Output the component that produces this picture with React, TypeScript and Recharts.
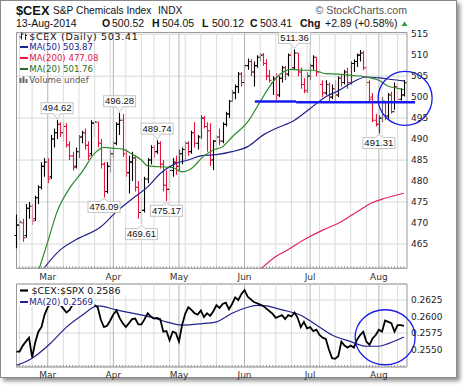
import React from "react";
import { ComposedChart, Bar, Line, XAxis, YAxis, CartesianGrid, ReferenceLine, ReferenceDot, ReferenceArea } from "recharts";

// trading days Feb 14 .. Aug 13 2014, index 0..124
const monthStarts = [10, 31, 52, 73, 94, 116];
const monthNames = ["Mar", "Apr", "May", "Jun", "Jul", "Aug"];
const weekStarts = [1, 5, 15, 20, 25, 30, 35, 40, 44, 49, 54, 59, 64, 69, 78, 83, 88, 93, 97, 102, 107, 112, 117, 122];

const open = [
  467, 469.5, 470, 467, 473.5, 474, 471, 476, 478.5, 483.5, 484.5, 481, 490, 491.5, 493.5, 491.5, 493, 488.6, 486, 483.5,
  487, 490.5, 491.5, 488.5, 486.5, 493.8, 494, 489, 484, 477.5, 483.5, 486.5, 489, 493.5, 494.5, 486.5, 482, 484.5, 485.5, 478.5,
  472.5, 473, 480.5, 485, 488, 487, 489, 484, 479, 478, 482.5, 484.5, 483.5, 486.5, 487.5, 489, 487, 491.5, 489, 490.5,
  495, 493, 492, 485, 489.5, 490.5, 489.5, 493.5, 496, 499, 501, 502.5, 505.5, 503.5, 507.5, 508.5, 506, 507.5, 509.5, 510,
  508, 505, 503.5, 504.5, 500.5, 504.5, 507, 505.5, 510, 507, 510.5, 506, 503, 501.5, 505, 507.5, 509.5, 506, 503, 501,
  503, 500, 502, 500.5, 504.5, 503.5, 506, 503.5, 508, 508.5, 510, 510.5, 507, 503.5, 500, 494.5, 493.5, 495, 499, 495.5,
  500.5, 496.5, 502.5, 499.5, 500.52,
];
const high = [
  472, 471, 471, 474.5, 475, 474.5, 476.5, 479, 484.5, 485.5, 485.5, 491, 492.5, 494.62, 494, 494, 493.8, 489.5, 487, 488,
  491, 492, 492.5, 489.5, 494.5, 494.2, 494, 490, 484.5, 484.5, 487.5, 489.5, 494, 496.28, 496, 487.5, 486, 487, 486, 480,
  476, 481, 485.5, 488.5, 488.5, 489.74, 489.5, 485, 482.5, 483.5, 485.5, 486, 487.5, 488, 489.5, 489.5, 492, 494, 491, 495.7,
  495.5, 494, 493.8, 489.8, 491, 492.5, 494, 496.5, 499.3, 501.7, 503, 506, 506, 508, 509.2, 509, 508.5, 510, 510.5, 510.5,
  509, 506.5, 505, 505.7, 505, 507.5, 507.5, 510.4, 511, 511.36, 510.5, 507, 504.5, 506, 508, 510, 509.5, 506.5, 504, 504,
  503.5, 503, 504, 505, 505.5, 506.5, 507, 508.5, 509, 510.4, 511.2, 511, 507.5, 504, 501, 496, 495.7, 500, 499, 501,
  501.3, 503.5, 503.3, 502.2, 504.05,
];
const low = [
  464, 466, 465.5, 466.5, 471, 469.5, 470.5, 474.5, 478, 481, 479.5, 480.5, 488, 490, 490.5, 489.5, 488, 485, 482.5, 483,
  485.5, 489, 487.5, 485, 486, 490.5, 488, 483, 476.09, 477, 482, 485.5, 488.5, 491, 485.8, 481, 477, 480, 477.5, 471,
  469.61, 472.5, 479.5, 484, 485.5, 486.5, 483, 477.5, 475.17, 477, 481, 481.5, 482.5, 484, 485, 486, 486.5, 488, 487.5, 490,
  492.5, 487, 483.6, 482.6, 488, 488.5, 489, 493, 495, 498.9, 499.5, 501, 502.5, 503, 506.5, 505, 502.5, 507, 508.5, 507.5,
  504, 503.5, 500.5, 498.9, 500, 503.5, 504, 505, 505, 506.5, 505, 502, 500.9, 501, 504, 506.5, 505, 502, 500, 500.5,
  498.9, 499.5, 499, 500, 502.5, 503, 502, 503, 506, 507.2, 508.5, 506.4, 502.5, 498.9, 494, 493, 491.31, 494, 494.5, 494.5,
  496.1, 497, 498.9, 499.2, 500.12,
];
const close = [
  469.5, 470.2, 466.5, 473.5, 474, 470.5, 476, 478.5, 483.5, 484.5, 480.5, 490, 491.5, 493.5, 491.5, 493, 488.6, 486, 483.2, 487,
  490.5, 491.5, 488.5, 486, 493.8, 494.1, 489, 484, 477.5, 483.5, 486.5, 489, 493.5, 494.5, 486.5, 482, 484.5, 485.5, 478.5, 472.5,
  473, 480.5, 485, 488, 487, 489, 484, 479, 478, 482.5, 484.5, 483.5, 486.5, 487.5, 489, 487, 491.5, 489, 490.5, 495,
  493, 492, 485, 489.5, 490.5, 489.5, 493.5, 496, 499, 501, 502.5, 505.5, 503.5, 507.5, 508.5, 506, 507.5, 509.5, 510, 508,
  505, 504, 504.5, 500.5, 504.5, 507, 505.5, 510, 507, 510.5, 506, 503, 501.5, 505, 507.5, 509.5, 506, 503, 501, 503,
  500, 502, 500.5, 504.5, 503.5, 506, 503.5, 508, 508.5, 510, 510.5, 507, 503.5, 499.5, 494.5, 493.5, 495, 499, 495.5, 500.5,
  496.5, 502.5, 499.5, 500.52, 503.41,
];

// moving averages as [day index, value]
const ma50Pts: [number, number][] = [
  [8, 458.5], [14, 463.6], [19, 466], [27, 469.1], [32, 472.7], [38, 476.3], [42, 478.6], [46, 481.8], [51, 484.2],
  [55, 485], [59, 486], [64, 486.3], [69, 487], [74, 488.2], [79, 491], [83, 492.5], [89, 494.5], [94, 497.3],
  [99, 500.1], [103, 501.5], [107, 503.3], [112, 504.8], [116, 504.6], [120, 504.2], [124, 503.87],
];
const ma20Pts: [number, number][] = [
  [7, 458.5], [10, 465.5], [13, 472.7], [17, 478.3], [21, 482.2], [25, 486.6], [28, 488], [31, 487.8], [34, 487.6],
  [37, 486.4], [40, 485], [42, 483.6], [46, 483.4], [50, 483.2], [53, 482.2], [56, 483], [60, 486], [63, 487.4],
  [66, 488.2], [69, 490.5], [74, 494.1], [78, 498.9], [81, 502.5], [84, 505.2], [88, 506.6], [92, 506.4], [95, 506.4],
  [99, 505.6], [103, 505.5], [107, 505.2], [112, 504.8], [116, 504], [119, 502.6], [122, 502.1], [124, 501.76],
];
const ma200Pts: [number, number][] = [
  [78, 458.9], [83, 462], [87, 463.7], [93, 466.4], [98, 468.3], [104, 470.3], [109, 472.7], [114, 474.9], [118, 475.9], [124, 477.08],
];

const ratio = [
  0.2547, 0.2547, 0.2556, 0.2562, 0.2568, 0.2538, 0.2561, 0.2577, 0.2584, 0.2603, 0.2614, 0.262, 0.2624, 0.2622, 0.2618, 0.2612,
  0.2606, 0.261, 0.2618, 0.2622, 0.2625, 0.2622, 0.262, 0.2624, 0.2622, 0.2617, 0.2614, 0.2595, 0.2584, 0.2586, 0.2594, 0.2603,
  0.2609, 0.2598, 0.259, 0.2584, 0.259, 0.2596, 0.2597, 0.2588, 0.2588, 0.2596, 0.2605, 0.26, 0.2597, 0.2598, 0.2596, 0.2577,
  0.2578, 0.2564, 0.2577, 0.2575, 0.2562, 0.2587, 0.2604, 0.2614, 0.261, 0.2605, 0.2603, 0.2609, 0.2599, 0.2605, 0.2601, 0.2608,
  0.2617, 0.2613, 0.2619, 0.2621, 0.2611, 0.2619, 0.2629, 0.2625, 0.2634, 0.264, 0.263, 0.2626, 0.2622, 0.262, 0.2618, 0.2616,
  0.2612, 0.2608, 0.2604, 0.2598, 0.26, 0.2602, 0.2596, 0.2602, 0.26, 0.2606, 0.2598, 0.2584, 0.2592, 0.2582, 0.2584, 0.2578,
  0.258, 0.2572, 0.2568, 0.2566, 0.255, 0.2537, 0.2536, 0.254, 0.2562, 0.2556, 0.2553, 0.2556, 0.2553, 0.2565, 0.2572, 0.2577,
  0.2562, 0.2557, 0.2567, 0.2572, 0.258, 0.2577, 0.2594, 0.2592, 0.259, 0.2577, 0.2587, 0.2587, 0.2586,
];
const ratioMaPts: [number, number][] = [
  [0, 0.2526], [5, 0.2537], [11, 0.256], [16, 0.2584], [21, 0.2602], [26, 0.2616], [32, 0.261], [37, 0.2605], [43, 0.2599],
  [48, 0.2592], [53, 0.2587], [59, 0.2589], [64, 0.2592], [69, 0.2605], [74, 0.2614], [77, 0.2617], [80, 0.2616], [85, 0.261],
  [91, 0.2602], [96, 0.2587], [101, 0.2572], [107, 0.2562], [112, 0.2555], [116, 0.2555], [119, 0.2559], [124, 0.2569],
];

const highLabels = [[13, 494.62], [33, 496.28], [45, 489.74], [89, 511.36]];
const lowLabels = [[28, 476.09], [40, 469.61], [48, 475.17], [116, 491.31]];

const priceTicks = [465, 470, 475, 480, 485, 490, 495, 500, 505, 510, 515];
const ratioTicks = [0.255, 0.2575, 0.26, 0.2625];

const toMap = (pts: [number, number][]) => new Map(pts.map(([k, v]) => [k, v]));
const m50 = toMap(ma50Pts);
const m20 = toMap(ma20Pts);
const m200 = toMap(ma200Pts);
const mr = toMap(ratioMaPts);

const priceRows = close.map((c, i) => ({
  i,
  o: open[i],
  h: high[i],
  l: low[i],
  c,
  range: [low[i], high[i]],
  up: i === 0 || c >= close[i - 1],
  ma50: m50.get(i) ?? null,
  ma20: m20.get(i) ?? null,
  ma200: m200.get(i) ?? null,
}));
const ratioRows = ratio.map((r, i) => ({ i, r, ma: mr.get(i) ?? null }));
const days = close.map((_, i) => i);

const AX = "DejaVu Sans, Verdana, sans-serif";
const HD = "Liberation Sans, Arial, sans-serif";
const BLUE = "#1a1af0";
const RED = "#e2163f";
const NAVY = "#22228c";
const GREEN = "#2a8a2a";

function OhlcBar(props: any) {
  const { x, y, width, height, payload } = props;
  if (x == null || !payload) return null;
  const top = Math.min(y, y + height);
  const bot = Math.max(y, y + height);
  const span = payload.h - payload.l || 1;
  const yOf = (v: number) => top + ((payload.h - v) / span) * (bot - top);
  const cx = Math.round(x + width / 2) + 0.5;
  const col = payload.up ? "#000" : RED;
  return (
    <g stroke={col} strokeWidth={1.1}>
      <line x1={cx} x2={cx} y1={top} y2={bot} />
      <line x1={cx - 2} x2={cx} y1={yOf(payload.o)} y2={yOf(payload.o)} />
      <line x1={cx} x2={cx + 2} y1={yOf(payload.c)} y2={yOf(payload.c)} />
    </g>
  );
}

function PriceTag(props: any) {
  const { cx, cy, text, below } = props;
  if (cx == null) return null;
  const w = 32, h = 11;
  const by = below ? cy + 4 : cy - 6 - h;
  const edge = below ? by : by + h;
  const tip = below ? cy + 1 : cy - 1;
  return (
    <g>
      <polygon points={`${cx - 4},${edge} ${cx + 4},${edge} ${cx},${tip}`} fill="#fff" stroke="#c4c4c4" />
      <rect x={cx - w / 2} y={by} width={w} height={h} fill="#fff" stroke="#c4c4c4" />
      <line x1={cx - 3.5} x2={cx + 3.5} y1={edge} y2={edge} stroke="#fff" />
      <text x={cx} y={by + 8.6} textAnchor="middle" fontSize={9.5} fontFamily={HD} fill="#111">{text}</text>
    </g>
  );
}

function DayTick(props: any) {
  const { x, y, payload, dy } = props;
  const m = monthStarts.indexOf(payload.value);
  return (
    <g>
      <line x1={x} x2={x} y1={y - 2} y2={y} stroke="#999" />
      {m >= 0 && (
        <text x={x} y={y + dy} textAnchor="middle" fontSize={9} fontFamily={AX} fill="#333">{monthNames[m]}</text>
      )}
    </g>
  );
}

function gridLines() {
  return [
    ...weekStarts.map((w) => <ReferenceLine key={"w" + w} x={w} stroke="#dcdcdc" />),
    ...monthStarts.map((m) => <ReferenceLine key={"m" + m} x={m} stroke="#b4b4b4" />),
  ];
}

export default function App() {
  const pDom: [number, number] = [459.2, 515.4];
  const rDom: [number, number] = [0.25236, 0.26492];
  return (
    <div style={{ position: "absolute", left: 0, top: 0, width: 464, height: 387, background: "#fff" }}>
      <div style={{ position: "absolute", left: 0, top: 0, width: 457, height: 378, boxSizing: "border-box", border: "1px solid #8a8a8a", boxShadow: "3px 3px 4px #909090" }} />

      <div style={{ position: "absolute", left: 0, top: 0 }}>
        <ComposedChart width={464} height={284} data={priceRows} margin={{ top: 32.5, right: 0, bottom: 0, left: 16.5 }}>
          <CartesianGrid vertical={false} stroke="#d8d8d8" />
          {gridLines()}
          <XAxis type="number" dataKey="i" domain={[0, 125]} ticks={days} interval={0} height={15.7}
            axisLine={false} tickLine={false} tickSize={0} tickMargin={0} tick={<DayTick dy={11.3} />} />
          <YAxis orientation="right" width={57} domain={pDom} allowDataOverflow ticks={priceTicks}
            axisLine={false} tickLine={false} tickSize={0} tickMargin={4}
            tick={{ fontSize: 9, fontFamily: AX, fill: "#222" }} />
          <Line dataKey="ma200" type="monotone" connectNulls dot={false} stroke="#e0245a" strokeWidth={1.2} isAnimationActive={false} />
          <Line dataKey="ma50" type="monotone" connectNulls dot={false} stroke={NAVY} strokeWidth={1.2} isAnimationActive={false} />
          <Line dataKey="ma20" type="monotone" connectNulls dot={false} stroke={GREEN} strokeWidth={1.2} isAnimationActive={false} />
          <Bar dataKey="range" barSize={5} shape={(p: any) => <OhlcBar {...p} />} isAnimationActive={false} />
          <ReferenceLine segment={[{ x: 76.3, y: 498.95 }, { x: 89.5, y: 498.95 }]} stroke={BLUE} strokeWidth={2.5} ifOverflow="visible" />
          <ReferenceLine segment={[{ x: 89.5, y: 498.75 }, { x: 127.6, y: 498.75 }]} stroke={BLUE} strokeWidth={2.5} ifOverflow="visible" />
          <ReferenceDot x={124.4} y={499.7} r={27} fill="none" stroke={BLUE} strokeWidth={1.3} ifOverflow="visible" />
          {highLabels.map(([i, v]) => (
            <ReferenceDot key={"h" + i} x={i} y={v} r={0} ifOverflow="visible"
              shape={(p: any) => <PriceTag {...p} text={v.toFixed(2)} />} />
          ))}
          {lowLabels.map(([i, v]) => (
            <ReferenceDot key={"l" + i} x={i} y={v} r={0} ifOverflow="visible"
              shape={(p: any) => <PriceTag {...p} text={v.toFixed(2)} below />} />
          ))}
          <ReferenceArea x1={0} x2={125} y1={pDom[0]} y2={pDom[1]} fill="none" stroke="#9a9a9a" />
        </ComposedChart>
      </div>

      <div style={{ position: "absolute", left: 0, top: 280 }}>
        <ComposedChart width={464} height={107} data={ratioRows} margin={{ top: 4, right: 0, bottom: 0, left: 16.5 }}>
          <CartesianGrid vertical={false} stroke="#d8d8d8" />
          {gridLines()}
          <XAxis type="number" dataKey="i" domain={[0, 125]} ticks={days} interval={0} height={20}
            axisLine={false} tickLine={false} tickSize={0} tickMargin={0} tick={<DayTick dy={10.5} />} />
          <YAxis orientation="right" width={57} domain={rDom} allowDataOverflow ticks={ratioTicks}
            axisLine={false} tickLine={false} tickSize={0} tickMargin={4}
            tickFormatter={(v: number) => v.toFixed(4)}
            tick={{ fontSize: 9, fontFamily: AX, fill: "#222" }} />
          <Line dataKey="ma" type="monotone" connectNulls dot={false} stroke={NAVY} strokeWidth={1.2} isAnimationActive={false} />
          <Line dataKey="r" type="linear" dot={false} stroke="#000" strokeWidth={1.8} isAnimationActive={false} />
          <ReferenceDot x={118} y={0.25686} r={0} ifOverflow="visible"
            shape={(p: any) => <ellipse cx={p.cx} cy={p.cy} rx={30} ry={27.5} fill="none" stroke={BLUE} strokeWidth={1.3} />} />
          <ReferenceArea x1={0} x2={125} y1={rDom[0]} y2={rDom[1]} fill="none" stroke="#9a9a9a" />
        </ComposedChart>
      </div>

      <svg width={464} height={387} style={{ position: "absolute", left: 0, top: 0, pointerEvents: "none" }}>
        <g fontFamily={HD} fill="#111">
          <text x={16} y={15.3} fontSize={12.8} fontWeight="bold">$CEX</text>
          <text x={53} y={14} fontSize={10.2}>S&amp;P Chemicals Index</text>
          <text x={158} y={14} fontSize={10.2}>INDX</text>
          <text x={407} y={14} fontSize={10.6} textAnchor="end" fill="#555">© StockCharts.com</text>
          <text x={16} y={27.3} fontSize={10.5}>13-Aug-2014</text>
          <text x={102} y={27.3} fontSize={10.5} fontWeight="bold">O</text>
          <text x={112} y={27.3} fontSize={10.5}>500.52</text>
          <text x={152} y={27.3} fontSize={10.5} fontWeight="bold">H</text>
          <text x={162} y={27.3} fontSize={10.5}>504.05</text>
          <text x={202} y={27.3} fontSize={10.5} fontWeight="bold">L</text>
          <text x={212} y={27.3} fontSize={10.5}>500.12</text>
          <text x={250} y={27.3} fontSize={10.5} fontWeight="bold">C</text>
          <text x={260} y={27.3} fontSize={10.5}>503.41</text>
          <text x={300} y={27.3} fontSize={10.5} fontWeight="bold">Chg</text>
          <text x={325} y={27.3} fontSize={10.5}>+2.89 (+0.58%)</text>
        </g>
        <polygon points="401.5,26 407.5,26 404.5,21.5" fill="#2e9a3a" />

        <g fontFamily={AX}>
          <g stroke="#222" strokeWidth={1}>
            <line x1={21.5} x2={21.5} y1={32.5} y2={39.5} />
            <line x1={19.5} x2={21.5} y1={37} y2={37} />
            <line x1={21.5} x2={23.5} y1={34} y2={34} />
            <line x1={25.5} x2={25.5} y1={33.5} y2={40} />
            <line x1={25.5} x2={27} y1={35.5} y2={35.5} />
          </g>
          <text x={29.3} y={39.5} fontSize={9.5} letterSpacing={0.7} fill="#111">$CEX (Daily) 503.41</text>
          <line x1={20} x2={28} y1={47} y2={47} stroke={NAVY} strokeWidth={2} />
          <text x={29.3} y={50.2} fontSize={8.6} fill={NAVY}>MA(50) 503.87</text>
          <line x1={20} x2={28} y1={58} y2={58} stroke={RED} strokeWidth={2} />
          <text x={29.3} y={61.4} fontSize={8.6} fill={RED}>MA(200) 477.08</text>
          <line x1={20} x2={28} y1={69} y2={69} stroke="#1f6f1f" strokeWidth={2} />
          <text x={29.3} y={72.4} fontSize={8.6} fill="#1f6f1f">MA(20) 501.76</text>
          <g fill="#666">
            <rect x={19.5} y={78} width={2} height={5} />
            <rect x={22.5} y={76.5} width={2} height={6.5} />
            <rect x={25.5} y={79} width={2} height={4} />
          </g>
          <text x={29.3} y={83.2} fontSize={8.6} fill="#555">Volume undef</text>

          <rect x={17.5} y={285} width={118} height={10.5} fill="#fff" />
          <rect x={17.5} y={295.5} width={77} height={10.5} fill="#fff" />
          <line x1={20} x2={28} y1={290.5} y2={290.5} stroke="#000" strokeWidth={2.2} />
          <text x={31.5} y={294.3} fontSize={9.5} fill="#111">$CEX:$SPX 0.2586</text>
          <line x1={20} x2={28} y1={302} y2={302} stroke={NAVY} strokeWidth={2} />
          <text x={29.3} y={305.4} fontSize={8.6} fill={NAVY}>MA(20) 0.2569</text>
        </g>
      </svg>
    </div>
  );
}
